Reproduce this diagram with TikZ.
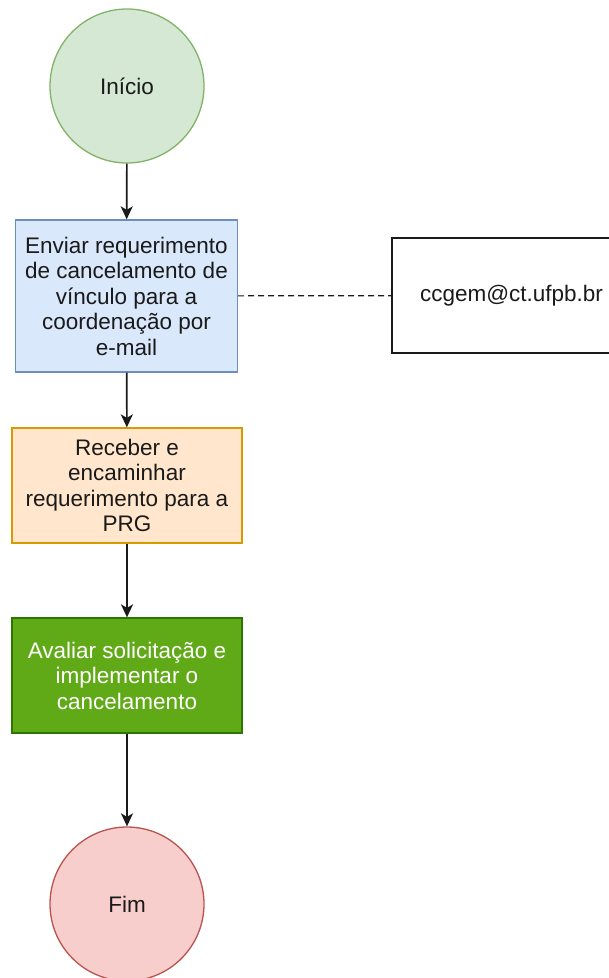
\documentclass[tikz,border=0pt]{standalone}
\usepackage{fontspec}
\setmainfont{Liberation Sans}
\usepackage{tikz}
\usetikzlibrary{arrows.meta}
\usetikzlibrary{positioning}

\definecolor{startfill}{HTML}{D5E8D4}
\definecolor{startline}{HTML}{82B366}
\definecolor{bluefill}{HTML}{DAE8FC}
\definecolor{blueline}{HTML}{6C8EBF}
\definecolor{orangefill}{HTML}{FFE6CC}
\definecolor{orangeline}{HTML}{D79B00}
\definecolor{greenfill}{HTML}{60A917}
\definecolor{greenline}{HTML}{2D7600}
\definecolor{endfill}{HTML}{F8CECC}
\definecolor{endline}{HTML}{B85450}
\definecolor{textgray}{HTML}{1A1A1A}

\tikzset{
	txt/.style={font=\fontsize{22.5}{25.5}\selectfont,text=textgray,align=center,inner sep=0pt},
	terminal/.style={txt,circle,line width=1.3pt,minimum size=154pt},
	stepbox/.style={txt,rectangle,line width=1.3pt},
	flow/.style={line width=1.6pt,draw=textgray,-{Stealth[length=13pt,width=12pt,inset=3.5pt]}}
}

\begin{document}
\begin{tikzpicture}[x=1pt,y=-1pt]
			\useasboundingbox (0,0) rectangle (609,978);
			\node[terminal,fill=startfill,draw=startline](inicio) at (127,86){Início};
			\node[stepbox,fill=bluefill,draw=blueline,minimum width=222pt,minimum height=152pt](enviar) at (126.5,296)
				{Enviar requerimento\\de cancelamento de\\vínculo para a\\coordenação por\hspace*{22pt}\\e-mail};
			\node[stepbox,fill=white,draw=textgray,minimum width=239pt,minimum height=115pt](email) at (511.5,295.5){ccgem@ct.ufpb.br};
			\node[stepbox,fill=orangefill,draw=orangeline,minimum width=230pt,minimum height=115pt](receber) at (127,485.5)
				{Receber e\\encaminhar\\requerimento para a\\PRG};
			\node[stepbox,fill=greenfill,draw=greenline,text=white,minimum width=230pt,minimum height=115pt](avaliar) at (127,675.5)
				{Avaliar solicitação e\\implementar o\\cancelamento};
			\node[terminal,fill=endfill,draw=endline](fim) at (127,904){Fim};
			\draw[flow](inicio)--(enviar);
			\draw[flow](enviar)--(receber);
			\draw[flow](receber)--(avaliar);
			\draw[flow](avaliar)--(fim);
			\draw[line width=1.2pt,draw=textgray,dash pattern=on 6pt off 4pt](enviar)--(email);
		\end{tikzpicture}
\end{document}
